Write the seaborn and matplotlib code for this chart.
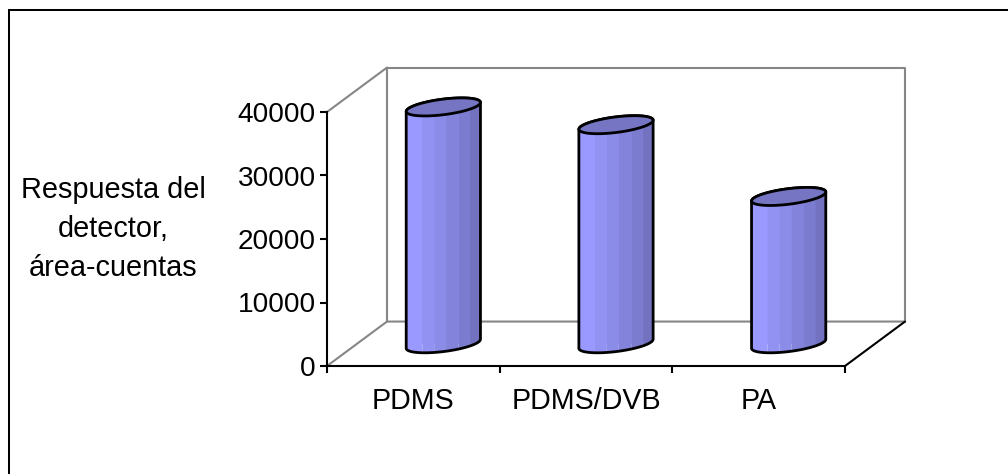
import numpy as np
import pandas as pd
import matplotlib
matplotlib.use('Agg')
import matplotlib.pyplot as plt
from matplotlib.patches import Polygon
from matplotlib.lines import Line2D
from matplotlib.transforms import Affine2D
import seaborn as sns

categories = ['PDMS', 'PDMS/DVB', 'PA']
valores = [37300, 34500, 23200]
yticks = [0, 10000, 20000, 30000, 40000]
band_colors = ['#9999FF', '#9292F3', '#8B8BE8', '#8383DB', '#7B7BCF', '#7272C1']
band_edges = [0, 0.21, 0.37, 0.53, 0.70, 0.85, 1]
top_color = '#7575C3'
ylabel_lines = 'Respuesta del\ndetector,\nárea-cuentas'

W, H = 1008, 474
sns.set_theme(style='white')
plt.rcParams['font.family'] = ['Liberation Sans', 'DejaVu Sans']

df = pd.DataFrame({'fibra': categories, 'area': valores})

fig = plt.figure(figsize=(W / 100, H / 100), dpi=100)
# front plane of the 3d box
ax = fig.add_axes([327 / W, 1 - 366 / H, 518 / W, 254 / H])
ax.patch.set_alpha(0)

# chart border, only top and left show up
fig.add_artist(Line2D([9 / W, 9 / W, 1], [0, 1 - 10 / H, 1 - 10 / H], transform=fig.transFigure,
                      color='black', lw=1.45, solid_joinstyle='miter'))

sns.barplot(data=df, x='fibra', y='area', color=band_colors[0], width=0.43, saturation=1, ax=ax, zorder=3)
ax.set_xlim(-0.5, 2.5)
ax.set_ylim(0, 40000)

# depth of the box, in data units
dep_x = 60 / (518 / 3)
dep_y = 7000
half_x = dep_x / 2
half_y = dep_y / 2

# walls
wall = dict(color='#868686', lw=1.5, clip_on=False, zorder=1)
ax.plot([-0.5, -0.5 + dep_x, -0.5 + dep_x], [40000, 40000 + dep_y, dep_y], **wall)
ax.plot([-0.5 + dep_x, 2.5 + dep_x, 2.5 + dep_x], [40000 + dep_y, 40000 + dep_y, dep_y], **wall)
ax.plot([-0.5, -0.5 + dep_x, 2.5 + dep_x], [0, dep_y, dep_y], **wall)
ax.plot([2.5, 2.5 + dep_x], [0, dep_y], color='black', lw=1.5, clip_on=False, zorder=2)

t = np.linspace(0, 2 * np.pi, 121)
a = 0.43 / 2
tilt = 710
b = 1230


def rim(cx, y0, tt):
    return cx + a * np.cos(tt), y0 + tilt * np.cos(tt) + b * np.sin(tt)


for i, (bar, v) in enumerate(zip(ax.patches, valores)):
    cx = i + half_x
    y0 = half_y
    bar.set_transform(Affine2D().translate(half_x, half_y) + ax.transData)
    # cylinder side: bottom arc going round, then top arc back
    bx, by = rim(cx, y0, np.linspace(np.pi, 2 * np.pi, 60))
    tx, ty = rim(cx, v + y0, np.linspace(0, np.pi, 60))
    body = Polygon(np.column_stack([np.r_[bx, tx], np.r_[by, ty]]), closed=True, fill=False,
                   ec='black', lw=2, zorder=6, clip_on=False, joinstyle='round')
    ax.add_patch(body)
    bar.set_clip_path(body)
    bar.set_clip_on(True)
    for j, c in enumerate(band_colors):
        xs = np.linspace(cx - a + 2 * a * band_edges[j], cx - a + 2 * a * band_edges[j + 1], 20)
        u = np.clip((xs - cx) / a, -1, 1)
        low = y0 + tilt * u - b * np.sqrt(1 - u ** 2)
        high = v + y0 + tilt * u + b * np.sqrt(1 - u ** 2)
        ax.fill_between(xs, low, high, color=c, lw=0, zorder=4, clip_on=False)
    ex, ey = rim(cx, v + y0, t)
    ax.fill(ex, ey, fc=top_color, ec='black', lw=2, zorder=7, clip_on=False)

for s in ['top', 'right']:
    ax.spines[s].set_visible(False)
for s in ['left', 'bottom']:
    ax.spines[s].set_color('black')
    ax.spines[s].set_linewidth(1.5)
    ax.spines[s].set_zorder(2)

ax.set_yticks(yticks)
ax.set_xticks([-0.5, 0.5, 1.5, 2.5], minor=False, labels=[''] * 4)
ax.set_xticks([0, 1, 2], minor=True, labels=categories)
ax.tick_params(axis='x', which='major', length=5, width=1.5, color='black', bottom=True)
ax.tick_params(axis='x', which='minor', length=0, labelsize=20.6, pad=15, labelcolor='black', bottom=False)
ax.tick_params(axis='y', length=5, width=1.5, color='black', labelsize=20.2, pad=3, labelcolor='black', left=True)
ax.set_xlabel('')
ax.set_ylabel('')

fig.text(113 / W, 1 - 229 / H, ylabel_lines, ha='center', va='center', fontsize=20.8, color='black', linespacing=1.5)

fig.savefig('out.png', dpi=100)
